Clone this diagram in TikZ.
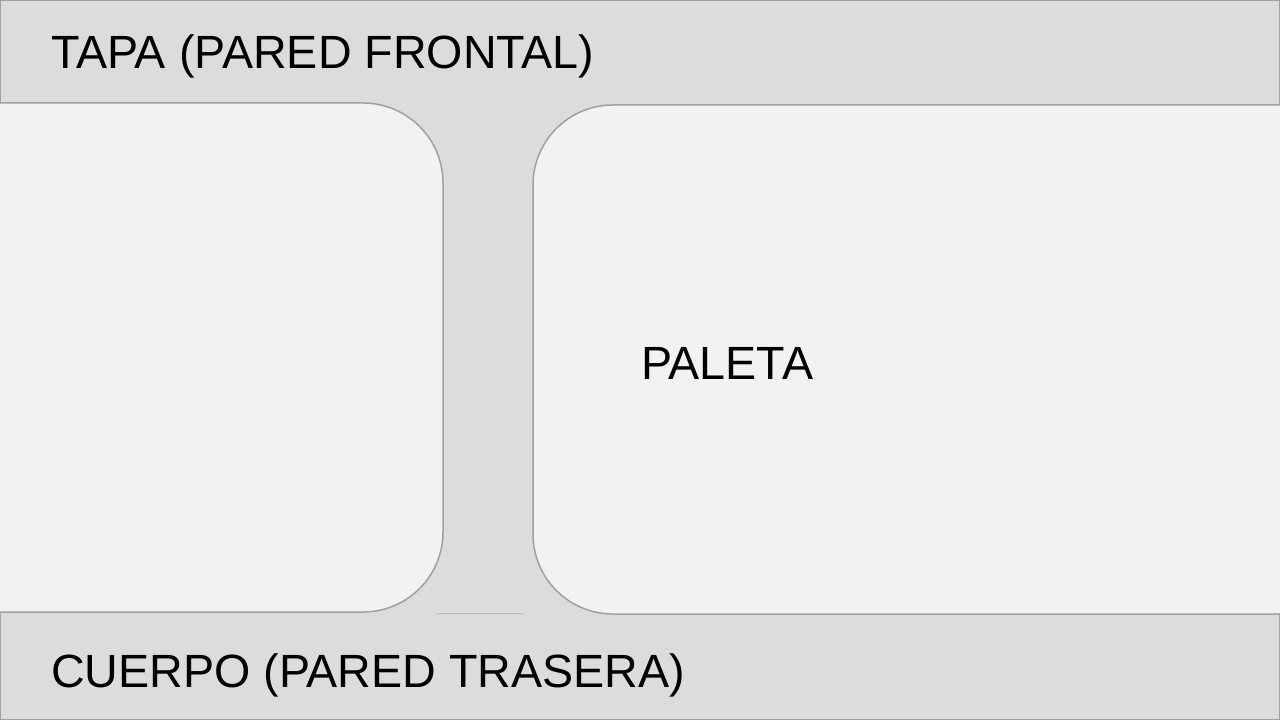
\documentclass[tikz,border=0pt]{standalone}
\usepackage{fontspec}
\setmainfont{Liberation Sans}
\definecolor{bandgray}{HTML}{DCDCDC}
\definecolor{panegray}{HTML}{F2F2F2}
\definecolor{edgegray}{HTML}{A0A0A0}
\definecolor{seamgray}{HTML}{B8B8B8}
\begin{document}
\begin{tikzpicture}[
    x=1bp, y=-1bp,
    frame/.style={draw=edgegray, line width=1.5bp},
    pane/.style={fill=panegray, draw=edgegray, line width=1.5bp, rounded corners=80bp},
    seam/.style={draw=seamgray, line width=1bp},
    caption/.style={font=\fontsize{46.8}{52}\selectfont, text=black, inner sep=0pt, anchor=base west}
]
\useasboundingbox (0,0) rectangle (1280,720);
\clip (0,0) rectangle (1280,720);
% Background and outer frame
\fill[bandgray] (0,0) rectangle (1280,720);
\draw[frame] (0.75,0.75) rectangle (1279.25,719.25);

% Panes
\draw[pane] (-100,103) rectangle (443,612);
\draw[pane] (533,105) rectangle (1380,614);

% Seam at the foot of the channel
\coordinate (seamL) at (436,613);
\coordinate (seamR) at (524,613);
\draw[seam] (seamL) -- (seamR);

% Labels
\node[caption] (tapa) at (51,69) {TAPA (PARED FRONTAL)};
\node[caption] (paleta) at (641,379) {PALETA};
\node[caption] (cuerpo) at (51,687) {CUERPO (PARED TRASERA)};
\end{tikzpicture}
\end{document}
